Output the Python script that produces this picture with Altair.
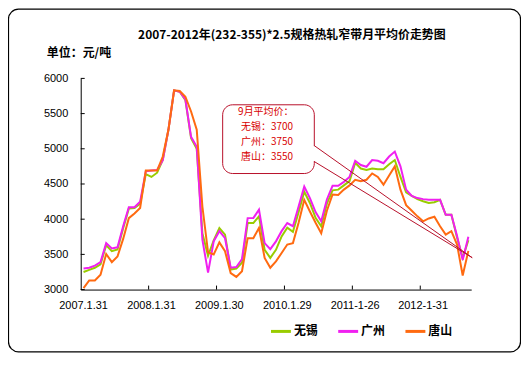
import altair as alt
import pandas as pd

# ---------------- data ----------------
names = ["无锡", "广州", "唐山"]
colors = ["#99CC00", "#F020F0", "#FF6A10"]

wuxi = [3250, 3280, 3310, 3360, 3630, 3545, 3570, 3870, 4150, 4160, 4220, 4640,
        4600, 4660, 4840, 5270, 5830, 5810, 5690, 5150, 5000, 3800, 3480, 3700,
        3875, 3780, 3285, 3300, 3380, 3945, 3945, 4040, 3565, 3450, 3565, 3755,
        3880, 3820, 4100, 4390, 4230, 4020, 3900, 4220, 4410, 4420, 4480, 4540,
        4800, 4720, 4700, 4720, 4710, 4710, 4780, 4840, 4600, 4380, 4330, 4285,
        4255, 4230, 4240, 4275, 4062, 4062, 3740, 3450, 3700]
guangzhou = [3300, 3310, 3340, 3390, 3660, 3585, 3600, 3900, 4170, 4170, 4250, 4680,
             4690, 4700, 4840, 5270, 5830, 5810, 5700, 5170, 5030, 3710, 3240, 3685,
             3830, 3730, 3310, 3320, 3435, 4015, 4015, 4135, 3660, 3575, 3685, 3830,
             3945, 3900, 4180, 4465, 4300, 4100, 3970, 4280, 4475, 4475, 4530, 4600,
             4830, 4770, 4745, 4840, 4830, 4795, 4890, 4960, 4750, 4420, 4330, 4300,
             4285, 4275, 4275, 4275, 4062, 4062, 3760, 3420, 3750]
tangshan = [3020, 3130, 3130, 3210, 3505, 3390, 3470, 3720, 4015, 4080, 4160, 4690,
            4690, 4690, 4890, 5270, 5830, 5820, 5740, 5530, 5270, 4180, 3530, 3500,
            3670, 3545, 3235, 3180, 3260, 3730, 3730, 3875, 3450, 3310, 3400, 3520,
            3640, 3660, 3950, 4275, 4110, 3950, 3800, 4120, 4350, 4345, 4420, 4480,
            4560, 4540, 4560, 4650, 4600, 4490, 4620, 4750, 4420, 4200, 4120, 4040,
            3970, 4010, 4035, 3900, 3780, 3830, 3640, 3200, 3550]
series = [wuxi, guangzhou, tangshan]

x_labels = ["2007.1.31", "2008.1.31", "2009.1.30", "2010.1.29", "2011-1-26", "2012-1-31"]
x_label_pos = [0, 12, 24, 36, 48, 60]
x_tick_pos = [11.5, 23.5, 35.5, 47.5, 59.5]
y_ticks = [3000, 3500, 4000, 4500, 5000, 5500, 6000]

title_text = "2007-2012年(232-355)*2.5规格热轧窄带月平均价走势图"
unit_text = "单位：元/吨"
note_head = "9月平均价："

# ---------------- layout ----------------
W, H = 392, 212
FONT_CN = "Noto Sans CJK SC"
FONT_EN = "Liberation Sans"
RED_LINE = "#B8102A"
RED_TEXT = "#D80000"

xs = alt.Scale(domain=[-0.5, 68.5], nice=False, zero=False)
ys = alt.Scale(domain=[3000, 6000], nice=False, zero=False)
cscale = alt.Scale(domain=names, range=colors)

xaxis = alt.Axis(values=x_label_pos, labels=False, ticks=False, tickSize=0, grid=False,
                 domain=True, domainColor="black", domainWidth=1, title=None)
yaxis = alt.Axis(values=y_ticks, ticks=False, tickSize=0, grid=False, domain=True,
                 domainColor="black", domainWidth=1, labelColor="black",
                 labelFont=FONT_EN, labelFontSize=11, labelPadding=13, format="d",
                 title=None)

layers = []

# outer rounded frame
layers.append(alt.Chart().mark_rect(cornerRadius=10, fillOpacity=0, stroke="black",
                                    strokeWidth=1.2).encode(
    x=alt.value(-72.5), x2=alt.value(441.5), y=alt.value(-69.5), y2=alt.value(274.5)))

# title + unit
layers.append(alt.Chart().mark_text(text=title_text, font=FONT_CN, fontSize=12,
                                    fontWeight="bold", align="center", baseline="middle",
                                    color="black").encode(
    x=alt.value(212), y=alt.value(-44)))
layers.append(alt.Chart().mark_text(text=unit_text, font=FONT_CN, fontSize=12,
                                    fontWeight="bold", align="left", baseline="middle",
                                    color="black").encode(
    x=alt.value(-34), y=alt.value(-25)))

# series lines
for vals, nm in zip(series, names):
    d = pd.DataFrame({"i": list(range(len(vals))), "v": vals, "s": nm})
    layers.append(alt.Chart(d).mark_line(strokeWidth=2).encode(
        x=alt.X("i:Q", scale=xs, axis=xaxis),
        y=alt.Y("v:Q", scale=ys, axis=yaxis),
        color=alt.Color("s:N", scale=cscale, legend=None)))

# inward y ticks
layers.append(alt.Chart(pd.DataFrame({"y": y_ticks})).mark_rule(color="black", strokeWidth=1).encode(
    y=alt.Y("y:Q", scale=ys, axis=yaxis), x=alt.value(0), x2=alt.value(4)))

# inward x ticks
layers.append(alt.Chart(pd.DataFrame({"t": x_tick_pos})).mark_rule(color="black", strokeWidth=1).encode(
    x=alt.X("t:Q", scale=xs, axis=xaxis), y=alt.value(H), y2=alt.value(H - 4)))

# x labels
layers.append(alt.Chart(pd.DataFrame({"p": x_label_pos, "lab": x_labels})).mark_text(
    font=FONT_EN, fontSize=11, color="black", align="center", baseline="middle").encode(
    x=alt.X("p:Q", scale=xs, axis=xaxis), y=alt.value(H + 17), text="lab:N"))

# legend
for k, (nm, col) in enumerate(zip(names, colors)):
    x0 = 191 + 67.5 * k
    layers.append(alt.Chart().mark_rule(color=col, strokeWidth=3).encode(
        x=alt.value(x0), x2=alt.value(x0 + 20), y=alt.value(254)))
    layers.append(alt.Chart().mark_text(text=nm, font=FONT_CN, fontSize=12, fontWeight="bold",
                                        align="left", baseline="middle", color="black").encode(
        x=alt.value(x0 + 23), y=alt.value(254)))

# callout box
layers.append(alt.Chart().mark_rect(cornerRadius=10, fill="white", stroke=RED_LINE,
                                    strokeWidth=1).encode(
    x=alt.value(142.5), x2=alt.value(234.5), y=alt.value(26.5), y2=alt.value(95.5)))
layers.append(alt.Chart().mark_rule(color="white", strokeWidth=3).encode(
    x=alt.value(234.5), y=alt.value(68), y2=alt.value(83)))
layers.append(alt.Chart().mark_rule(color=RED_LINE, strokeWidth=1).encode(
    x=alt.value(234.5), y=alt.value(67.5), x2=alt.value(393), y2=alt.value(180)))
layers.append(alt.Chart().mark_rule(color=RED_LINE, strokeWidth=1).encode(
    x=alt.value(234.5), y=alt.value(83.5), x2=alt.value(393), y2=alt.value(180)))

note_lines = [note_head] + [f"{nm}：{vals[-1]}" for nm, vals in zip(names, series)]
for j, line in enumerate(note_lines):
    layers.append(alt.Chart().mark_text(text=line, font=FONT_CN, fontSize=10,
                                        align="left", baseline="middle", color=RED_TEXT).encode(
        x=alt.value(158 if j == 0 else 161), y=alt.value(34 + 15 * j)))

chart = alt.layer(*layers).properties(
    width=W, height=H,
    padding={"left": 73, "top": 70, "right": 50, "bottom": 63},
    autosize=alt.AutoSizeParams(type="none"),
    background="white",
).configure_view(stroke=None)

chart.save("out.html", embed_options={"renderer": "svg", "actions": False})
